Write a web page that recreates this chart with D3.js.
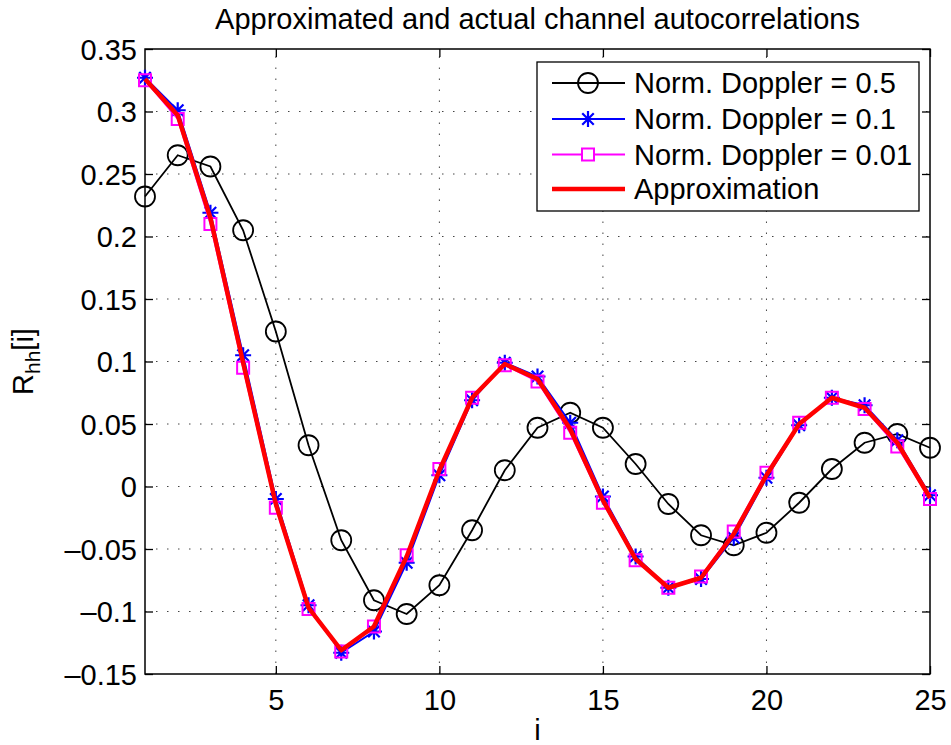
<!DOCTYPE html>
<html>
<head>
<meta charset="utf-8">
<script src="https://cdn.jsdelivr.net/npm/d3@7"></script>
<style>
  html, body { margin: 0; padding: 0; background: #fff; }
  svg { display: block; }
  text { font-family: "Liberation Sans", Arial, Helvetica, sans-serif; fill: #000; }
</style>
</head>
<body>
<svg id="chart" width="951" height="745"></svg>
<script>
// Lag index
const lags = d3.range(1, 26);

// Measured autocorrelation, normalized Doppler 0.5
const doppler05 = [0.232, 0.265, 0.256, 0.205, 0.124, 0.033, -0.043, -0.091, -0.102, -0.079,
  -0.035, 0.013, 0.047, 0.059, 0.047, 0.018, -0.014, -0.039, -0.047, -0.037,
  -0.013, 0.014, 0.035, 0.042, 0.031];

// Measured autocorrelation, normalized Doppler 0.1
const doppler01 = [0.327, 0.301, 0.219, 0.105, -0.010, -0.095, -0.133, -0.116, -0.061, 0.009,
  0.069, 0.099, 0.088, 0.051, -0.008, -0.056, -0.081, -0.074, -0.041, 0.007,
  0.049, 0.071, 0.065, 0.037, -0.007];

// Measured autocorrelation, normalized Doppler 0.01
const doppler001 = [0.325, 0.294, 0.210, 0.095, -0.017, -0.098, -0.132, -0.112, -0.055, 0.014,
  0.071, 0.097, 0.084, 0.043, -0.013, -0.059, -0.081, -0.072, -0.036, 0.011,
  0.051, 0.071, 0.062, 0.032, -0.010];

// Analytical approximation
const approximation = [0.326, 0.297, 0.215, 0.099, -0.014, -0.097, -0.131, -0.112, -0.056, 0.013,
  0.071, 0.098, 0.086, 0.046, -0.011, -0.058, -0.081, -0.073, -0.038, 0.009,
  0.050, 0.071, 0.063, 0.035, -0.009];

const xTicks = [5, 10, 15, 20, 25];
const yTicks = [-0.15, -0.1, -0.05, 0, 0.05, 0.1, 0.15, 0.2, 0.25, 0.3, 0.35];
const seriesNames = ["Norm. Doppler = 0.5", "Norm. Doppler = 0.1", "Norm. Doppler = 0.01", "Approximation"];

const svg = d3.select("#chart");
const L = 145, R = 930, T = 49, B = 674;

const x = d3.scaleLinear().domain([1, 25]).range([L, R]);
const y = d3.scaleLinear().domain([-0.15, 0.35]).range([B, T]);

const FONT = 29;
const fmtY = v => (v < 0 ? "\u2013" : "") + String(Math.abs(+v.toFixed(2)));

// dotted grid
const grid = svg.append("g").attr("stroke", "#444").attr("stroke-width", 1)
  .attr("stroke-dasharray", "1.5,9.5").attr("fill", "none");
grid.selectAll("line.gx").data(xTicks.filter(t => t < 25)).join("line")
  .attr("class", "gx")
  .attr("x1", d => x(d)).attr("x2", d => x(d)).attr("y1", B).attr("y2", T);
grid.selectAll("line.gy").data(yTicks.filter(t => t > -0.15 && t < 0.35)).join("line")
  .attr("class", "gy")
  .attr("y1", d => y(d)).attr("y2", d => y(d)).attr("x1", L).attr("x2", R);

// axes frame with inward ticks
const axisBottom = d3.axisBottom(x).tickValues(xTicks).tickSize(-8).tickPadding(15).tickFormat(d3.format("d"));
const axisTop = d3.axisTop(x).tickValues(xTicks).tickSize(-8).tickFormat("");
const axisLeft = d3.axisLeft(y).tickValues(yTicks).tickSize(-8).tickPadding(8).tickFormat(fmtY);
const axisRight = d3.axisRight(y).tickValues(yTicks).tickSize(-8).tickFormat("");

function styleAxis(g) {
  g.select(".domain").remove();
  g.selectAll(".tick line").attr("stroke", "#000").attr("stroke-width", 1.3);
  g.selectAll(".tick text").style("font-size", FONT + "px")
    .style("font-family", '"Liberation Sans", Arial, sans-serif').attr("fill", "#000");
}
svg.append("g").attr("transform", `translate(0,${B})`).call(axisBottom).call(styleAxis)
  .selectAll(".tick text").attr("dy", "0.71em");
svg.append("g").attr("transform", `translate(0,${T})`).call(axisTop).call(styleAxis);
svg.append("g").attr("transform", `translate(${L},0)`).call(axisLeft).call(styleAxis)
  .selectAll(".tick text").attr("dy", "0.36em");
svg.append("g").attr("transform", `translate(${R},0)`).call(axisRight).call(styleAxis);

svg.append("rect").attr("x", L).attr("y", T).attr("width", R - L).attr("height", B - T)
  .attr("fill", "none").attr("stroke", "#000").attr("stroke-width", 1.5);

// series
const line = d3.line().x((d, i) => x(lags[i])).y(d => y(d));
const plot = svg.append("g");

function starPath(cx, cy, r) {
  const d = r * 0.72;
  return `M${cx - r},${cy}L${cx + r},${cy}M${cx},${cy - r}L${cx},${cy + r}` +
    `M${cx - d},${cy - d}L${cx + d},${cy + d}M${cx - d},${cy + d}L${cx + d},${cy - d}`;
}

// Doppler 0.5 : black circles
plot.append("path").datum(doppler05).attr("d", line)
  .attr("fill", "none").attr("stroke", "#000").attr("stroke-width", 1.8);
plot.selectAll("circle.d05").data(doppler05).join("circle").attr("class", "d05")
  .attr("cx", (d, i) => x(lags[i])).attr("cy", d => y(d)).attr("r", 10)
  .attr("fill", "none").attr("stroke", "#000").attr("stroke-width", 1.8);

// Doppler 0.1 : blue stars
plot.append("path").datum(doppler01).attr("d", line)
  .attr("fill", "none").attr("stroke", "#0000ff").attr("stroke-width", 2);
plot.selectAll("path.d01").data(doppler01).join("path").attr("class", "d01")
  .attr("d", (d, i) => starPath(x(lags[i]), y(d), 8))
  .attr("fill", "none").attr("stroke", "#0000ff").attr("stroke-width", 2.2);

// Doppler 0.01 : magenta squares
plot.append("path").datum(doppler001).attr("d", line)
  .attr("fill", "none").attr("stroke", "#ff00ff").attr("stroke-width", 1.8);
plot.selectAll("rect.d001").data(doppler001).join("rect").attr("class", "d001")
  .attr("x", (d, i) => x(lags[i]) - 6).attr("y", d => y(d) - 6)
  .attr("width", 12).attr("height", 12)
  .attr("fill", "none").attr("stroke", "#ff00ff").attr("stroke-width", 2);

// approximation : thick red line
plot.append("path").datum(approximation).attr("d", line)
  .attr("fill", "none").attr("stroke", "#ff0000").attr("stroke-width", 4.5)
  .attr("stroke-linejoin", "round");

// title and axis labels
svg.append("text").attr("x", (L + R) / 2).attr("y", 29).attr("text-anchor", "middle")
  .style("font-size", FONT + "px").text("Approximated and actual channel autocorrelations");
svg.append("text").attr("x", (L + R) / 2).attr("y", 740).attr("text-anchor", "middle")
  .style("font-size", FONT + "px").text("i");
const yl = svg.append("text").attr("transform", `translate(33,${(T + B) / 2}) rotate(-90)`)
  .attr("text-anchor", "middle").style("font-size", FONT + "px");
yl.append("tspan").text("R");
yl.append("tspan").attr("dy", 7).style("font-size", "21px").text("hh");
yl.append("tspan").attr("dy", -7).text("[i]");

// legend
const lg = svg.append("g");
lg.append("rect").attr("x", 537).attr("y", 62).attr("width", 382).attr("height", 149)
  .attr("fill", "#fff").attr("stroke", "#000").attr("stroke-width", 1.3);
const rows = [83, 119, 154.5, 189];
const lx1 = 552, lx2 = 625, mx = 588;
const legendStyles = [
  { color: "#000", w: 1.8 }, { color: "#0000ff", w: 2 }, { color: "#ff00ff", w: 1.8 }, { color: "#ff0000", w: 4.5 }
];
seriesNames.forEach((name, k) => {
  const yy = rows[k];
  lg.append("line").attr("x1", lx1).attr("x2", lx2).attr("y1", yy).attr("y2", yy)
    .attr("stroke", legendStyles[k].color).attr("stroke-width", legendStyles[k].w);
  if (k === 0) lg.append("circle").attr("cx", mx).attr("cy", yy).attr("r", 10)
    .attr("fill", "none").attr("stroke", "#000").attr("stroke-width", 1.8);
  if (k === 1) lg.append("path").attr("d", starPath(mx, yy, 8))
    .attr("fill", "none").attr("stroke", "#0000ff").attr("stroke-width", 2.2);
  if (k === 2) lg.append("rect").attr("x", mx - 6).attr("y", yy - 6).attr("width", 12).attr("height", 12)
    .attr("fill", "#fff").attr("stroke", "#ff00ff").attr("stroke-width", 2);
  lg.append("text").attr("x", 634).attr("y", yy).attr("dy", "0.36em")
    .style("font-size", FONT + "px").text(name);
});
</script>
</body>
</html>
